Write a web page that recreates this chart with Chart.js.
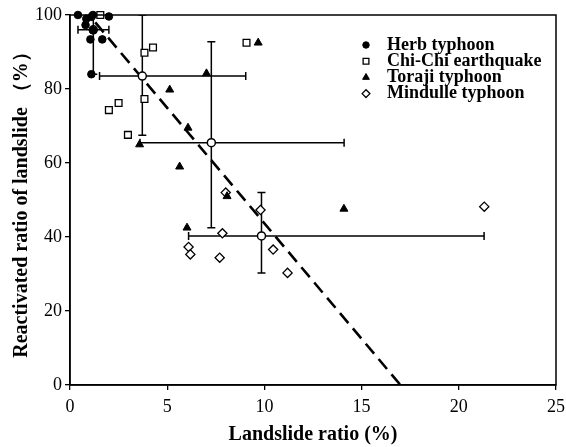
<!DOCTYPE html>
<html>
<head>
<meta charset="utf-8">
<script src="https://cdn.jsdelivr.net/npm/chart.js@4.4.1/dist/chart.umd.min.js"></script>
<style>
  html, body { margin: 0; padding: 0; background: #fff; }
  #wrap { width: 566px; height: 447px; }
</style>
</head>
<body>
<div id="wrap"><canvas id="chart"></canvas></div>
<script>
// scatter values
var herbX = [0.41, 1.18, 2.0, 0.84, 1.1, 0.8, 1.18, 1.05, 1.66, 1.1];
var herbY = [100, 100, 99.6, 99, 99.5, 97.3, 95.9, 93.4, 93.4, 84];

var chichiX = [1.56, 4.27, 3.83, 3.83, 2.5, 2.0, 2.98, 9.08];
var chichiY = [100, 91.2, 89.8, 77.3, 76.2, 74.3, 67.6, 92.5];

var torajiX = [7.02, 5.13, 6.07, 3.58, 9.68, 5.64, 8.08, 6.02, 14.09];
var torajiY = [84.2, 79.8, 69.5, 65.0, 92.5, 59.0, 51.0, 42.5, 47.6];

var mindulleX = [8.01, 9.8, 7.84, 6.1, 6.19, 7.7, 10.45, 11.19, 21.31];
var mindulleY = [52.0, 47.3, 41.0, 37.3, 35.3, 34.4, 36.6, 30.3, 48.2];

// mean of each event with ranges
var meanX = [1.2, 3.72, 7.27, 9.85];
var meanY = [96, 83.5, 65.5, 40.3];
var meanXLow = [0.41, 1.52, 3.6, 6.1];
var meanXHigh = [2.0, 9.04, 14.1, 21.3];
var meanYLow = [84, 67.5, 42.5, 30.3];
var meanYHigh = [100, 100, 92.8, 52];

// regression line ends
var fitX = [1.3, 17.0];
var fitY = [98.0, 0];

var seriesNames = ['Herb typhoon', 'Chi-Chi earthquake', 'Toraji typhoon', 'Mindulle typhoon'];

function pts(xs, ys) {
  return xs.map(function (x, i) { return { x: x, y: ys[i] }; });
}

var serif = '"Liberation Serif", "Times New Roman", serif';

var errorBars = {
  id: 'errorBars',
  beforeDatasetsDraw: function (chart) {
    var c = chart.ctx;
    var xs = chart.scales.x, ys = chart.scales.y;
    var area = chart.chartArea;
    var cap = 4;
    c.save();
    c.beginPath();
    c.rect(area.left, area.top, area.right - area.left, area.bottom - area.top);
    c.clip();
    c.strokeStyle = '#000';
    c.lineWidth = 1.5;
    for (var i = 0; i < meanX.length; i++) {
      var px = xs.getPixelForValue(meanX[i]);
      var py = ys.getPixelForValue(meanY[i]);
      var x1 = xs.getPixelForValue(meanXLow[i]);
      var x2 = xs.getPixelForValue(meanXHigh[i]);
      var y1 = ys.getPixelForValue(meanYLow[i]);
      var y2 = ys.getPixelForValue(meanYHigh[i]);
      c.beginPath();
      c.moveTo(x1, py); c.lineTo(x2, py);
      c.moveTo(x1, py - cap); c.lineTo(x1, py + cap);
      c.moveTo(x2, py - cap); c.lineTo(x2, py + cap);
      c.moveTo(px, y1); c.lineTo(px, y2);
      c.moveTo(px - cap, y1); c.lineTo(px + cap, y1);
      c.moveTo(px - cap, y2); c.lineTo(px + cap, y2);
      c.stroke();
    }
    c.restore();
  }
};

var frameAndLegend = {
  id: 'frameAndLegend',
  afterDatasetsDraw: function (chart) {
    var c = chart.ctx;
    var a = chart.chartArea;
    c.save();
    c.strokeStyle = '#000';
    c.lineWidth = 1.5;
    c.strokeRect(a.left, a.top, a.right - a.left, a.bottom - a.top);

    c.font = 'bold 18px ' + serif;
    c.textBaseline = 'middle';
    c.textAlign = 'left';
    for (var i = 0; i < 4; i++) {
      var ds = chart.data.datasets[i];
      var y = a.top + 30 + i * 16.2;
      var mx = a.left + 296;
      c.fillStyle = ds.backgroundColor;
      c.strokeStyle = ds.borderColor;
      c.lineWidth = ds.borderWidth;
      Chart.helpers.drawPoint(c, {
        pointStyle: ds.pointStyle,
        radius: ds.pointRadius * 0.85,
        borderWidth: ds.borderWidth,
        rotation: 0
      }, mx, y);
      c.fillStyle = '#000';
      c.fillText(seriesNames[i], a.left + 317, y);
    }
    c.restore();
  }
};

new Chart(document.getElementById('chart'), {
  type: 'scatter',
  data: {
    datasets: [
      {
        label: seriesNames[0],
        data: pts(herbX, herbY),
        pointStyle: 'circle',
        pointRadius: 3.8,
        backgroundColor: '#000',
        borderColor: '#000',
        borderWidth: 1,
        clip: false,
        order: 1
      },
      {
        label: seriesNames[1],
        data: pts(chichiX, chichiY),
        pointStyle: 'rect',
        pointRadius: 4.8,
        backgroundColor: '#fff',
        borderColor: '#000',
        borderWidth: 1.3,
        clip: false,
        order: 2
      },
      {
        label: seriesNames[2],
        data: pts(torajiX, torajiY),
        pointStyle: 'triangle',
        pointRadius: 4.6,
        backgroundColor: '#000',
        borderColor: '#000',
        borderWidth: 1,
        clip: false,
        order: 3
      },
      {
        label: seriesNames[3],
        data: pts(mindulleX, mindulleY),
        pointStyle: 'rectRot',
        pointRadius: 4.6,
        backgroundColor: '#fff',
        borderColor: '#000',
        borderWidth: 1.3,
        clip: false,
        order: 4
      },
      {
        label: 'Mean',
        data: pts(meanX, meanY),
        pointStyle: 'circle',
        pointRadius: 4,
        backgroundColor: '#fff',
        borderColor: '#000',
        borderWidth: 1.5,
        order: 5
      },
      {
        label: 'Fit',
        type: 'line',
        data: pts(fitX, fitY),
        showLine: true,
        pointRadius: 0,
        borderColor: '#000',
        borderWidth: 2.6,
        borderDash: [13, 7],
        fill: false,
        order: 6
      }
    ]
  },
  options: {
    responsive: true,
    maintainAspectRatio: false,
    animation: false,
    layout: { padding: { top: 15, right: 10, left: 0, bottom: 0 } },
    plugins: {
      legend: { display: false },
      tooltip: { enabled: false }
    },
    scales: {
      x: {
        type: 'linear',
        min: 0,
        max: 25,
        ticks: {
          stepSize: 5,
          color: '#000',
          padding: 6,
          font: { family: serif, size: 18 }
        },
        grid: {
          drawOnChartArea: false,
          drawTicks: true,
          tickLength: 5,
          color: '#000',
          lineWidth: 1.3
        },
        border: { color: '#000', width: 1.5 },
        title: {
          display: true,
          text: 'Landslide ratio (%)',
          color: '#000',
          font: { family: serif, size: 20, weight: 'bold' },
          padding: { top: 2, bottom: 0 }
        },
        afterFit: function (s) {
          s.height = 62;
          s.paddingRight = 0;
          s.paddingLeft = 0;
        }
      },
      y: {
        type: 'linear',
        min: 0,
        max: 100,
        ticks: {
          stepSize: 20,
          color: '#000',
          padding: 3,
          font: { family: serif, size: 18 }
        },
        grid: {
          drawOnChartArea: false,
          drawTicks: true,
          tickLength: 5,
          color: '#000',
          lineWidth: 1.3
        },
        border: { color: '#000', width: 1.5 },
        title: {
          display: true,
          text: 'Reactivated ratio of landslide （%）',
          color: '#000',
          font: { family: serif, size: 20, weight: 'bold' },
          padding: { top: 10, bottom: 0 }
        },
        afterFit: function (s) { s.width = 70; }
      }
    }
  },
  plugins: [errorBars, frameAndLegend]
});
</script>
</body>
</html>
